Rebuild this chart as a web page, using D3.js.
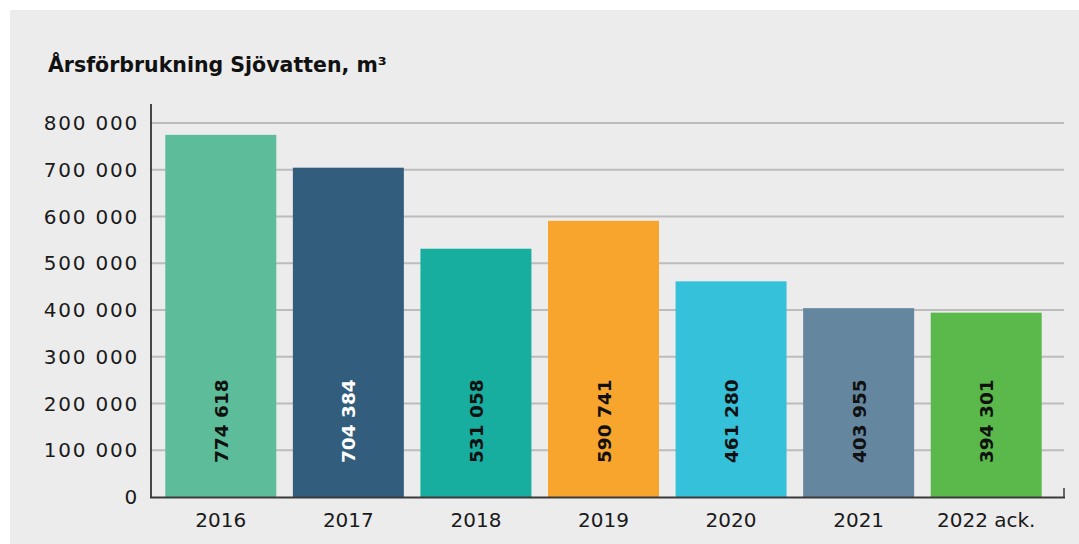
<!DOCTYPE html>
<html>
<head>
<meta charset="utf-8">
<script src="https://cdn.jsdelivr.net/npm/d3@7"></script>
<style>
  html, body { margin: 0; padding: 0; background: #ffffff; }
  svg { display: block; }
  text { font-family: "DejaVu Sans", sans-serif; }
</style>
</head>
<body>
<svg id="chart" width="1079" height="544"></svg>
<script>
const categories = ["2016", "2017", "2018", "2019", "2020", "2021", "2022 ack."];
const values = [774618, 704384, 531058, 590741, 461280, 403955, 394301];
const barColors = ["#5dbd9a", "#325d7c", "#17ad9f", "#f7a52c", "#36c1db", "#64869e", "#5ab94a"];
const labelColors = ["#111", "#fff", "#111", "#111", "#111", "#111", "#111"];
const yTicks = [0, 100000, 200000, 300000, 400000, 500000, 600000, 700000, 800000];
const title = "Årsförbrukning Sjövatten, m³";

const svg = d3.select("#chart");

svg.append("rect").attr("x", 10).attr("y", 10).attr("width", 1069).attr("height", 534).attr("fill", "#ececec");

const x = d3.scaleBand().domain(categories).range([157, 1050]).paddingInner(0.13).paddingOuter(0.065);
const y = d3.scaleLinear().domain([0, 800000]).range([497, 123]);

const fmt = v => d3.format(",")(v).replace(/,/g, " ");

// gridlines
svg.append("g").selectAll("line").data(yTicks.filter(d => d > 0)).join("line")
  .attr("x1", 151).attr("x2", 1064)
  .attr("y1", d => y(d)).attr("y2", d => y(d))
  .attr("stroke", "#bcbcbc").attr("stroke-width", 2);

// y tick labels
svg.append("g").selectAll("text").data(yTicks).join("text")
  .attr("x", 139).attr("y", d => y(d)).attr("dy", "0.36em")
  .attr("text-anchor", "end")
  .attr("font-size", 20).attr("letter-spacing", 1.8).attr("fill", "#1a1a1a")
  .text(fmt);

// bars
svg.append("g").selectAll("rect").data(values).join("rect")
  .attr("x", (d, i) => x(categories[i]))
  .attr("width", x.bandwidth())
  .attr("y", d => y(d))
  .attr("height", d => y(0) - y(d))
  .attr("fill", (d, i) => barColors[i]);

// value labels
svg.append("g").selectAll("text").data(values).join("text")
  .attr("transform", (d, i) => `translate(${x(categories[i]) + x.bandwidth() / 2 + 7},463) rotate(-90)`)
  .attr("text-anchor", "start")
  .attr("font-size", 18.5).attr("font-weight", "bold")
  .attr("fill", (d, i) => labelColors[i])
  .text(fmt);

// axes lines
svg.append("line").attr("x1", 151).attr("x2", 151).attr("y1", 104).attr("y2", 498)
  .attr("stroke", "#111").attr("stroke-width", 1.5);
svg.append("line").attr("x1", 150).attr("x2", 1065).attr("y1", 497.5).attr("y2", 497.5)
  .attr("stroke", "#3a3a3a").attr("stroke-width", 2);
svg.append("line").attr("x1", 1064).attr("x2", 1064).attr("y1", 488).attr("y2", 498)
  .attr("stroke", "#3a3a3a").attr("stroke-width", 1.5);

// x labels
svg.append("g").selectAll("text").data(categories).join("text")
  .attr("x", d => x(d) + x.bandwidth() / 2).attr("y", 527)
  .attr("text-anchor", "middle")
  .attr("font-size", 20).attr("fill", "#1a1a1a")
  .text(d => d);

// title
svg.append("text").attr("x", 48).attr("y", 72)
  .attr("font-size", 20.5).attr("font-weight", "bold").attr("fill", "#111")
  .text(title);
</script>
</body>
</html>
